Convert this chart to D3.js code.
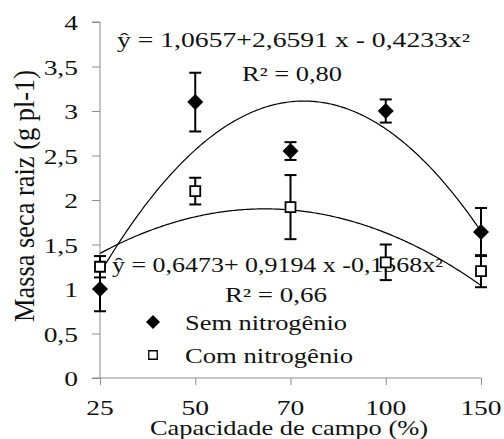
<!DOCTYPE html>
<html>
<head>
<meta charset="utf-8">
<script src="https://cdn.jsdelivr.net/npm/d3@7"></script>
<style>
  html, body { margin: 0; padding: 0; background: #fff; }
  svg { display: block; }
</style>
</head>
<body>
<svg id="chart" width="504" height="439"></svg>
<script>
// ---- data ----
const categories = ["25", "50", "70", "100", "150"];
const semValues = [1.0, 3.1, 2.55, 3.0, 1.64];
const semErrors = [0.25, 0.33, 0.10, 0.13, 0.27];
const comValues = [1.25, 2.1, 1.92, 1.3, 1.2];
const comErrors = [0.12, 0.15, 0.36, 0.20, 0.18];
const yTicks = [0, 0.5, 1, 1.5, 2, 2.5, 3, 3.5, 4];
const yTickLabels = ["0", "0,5", "1", "1,5", "2", "2,5", "3", "3,5", "4"];
const seriesNames = ["Sem nitrogênio", "Com nitrogênio"];
const eqSem = "ŷ = 1,0657+2,6591 x - 0,4233x²";
const r2Sem = "R² = 0,80";
const eqCom = "ŷ = 0,6473+ 0,9194 x -0,1568x²";
const r2Com = "R² = 0,66";
const xTitle = "Capacidade de campo (%)";
const yTitle = "Massa seca raiz (g pl-1)";

// ---- layout ----
const FONT = "Liberation Serif";
const svg = d3.select("#chart");
const X0 = 100, X1 = 481, Y0 = 378, Y1 = 22;
const x = d3.scalePoint().domain(categories).range([X0, X1]);
const xIdx = d3.scaleLinear().domain([1, categories.length]).range([X0, X1]);
const y = d3.scaleLinear().domain([0, 4]).range([Y0, Y1]);
const axisColor = "#8c8c8c";
const HS = 1.25; // horizontal glyph stretch of the reference

// axes
const yAxis = svg.append("g").attr("transform", `translate(${X0},0)`)
  .call(d3.axisLeft(y).tickValues(yTicks).tickSize(8).tickFormat(""));
yAxis.selectAll("path,line").attr("stroke", axisColor).attr("stroke-width", 1);
yAxis.select(".domain").attr("d", `M-8,${Y1}H0V${Y0}`);

const xAxis = svg.append("g").attr("transform", `translate(0,${Y0})`)
  .call(d3.axisBottom(x).tickSize(7).tickFormat(""));
xAxis.selectAll("path,line").attr("stroke", axisColor).attr("stroke-width", 1);
xAxis.select(".domain").attr("d", `M${X0 - 8},0H${X1}`);

function styleText(sel, size) {
  return sel.attr("font-family", FONT).attr("font-size", size).attr("fill", "#111");
}

// y tick labels
styleText(svg.append("g").selectAll("text").data(yTicks).join("text"), 22)
  .attr("transform", d => `translate(78,${y(d) + 8}) scale(${HS},1)`)
  .attr("text-anchor", "end")
  .text((d, i) => yTickLabels[i]);

// x tick labels
styleText(svg.append("g").selectAll("text").data(categories).join("text"), 22)
  .attr("transform", d => `translate(${x(d)},415) scale(${HS},1)`)
  .attr("text-anchor", "middle")
  .text(d => d);

// axis titles
styleText(svg.append("text"), 21)
  .attr("x", 150).attr("y", 435)
  .attr("textLength", 278).attr("lengthAdjust", "spacingAndGlyphs")
  .text(xTitle);

styleText(svg.append("text"), 22)
  .attr("transform", "translate(34,196) scale(1.3,1) rotate(-90)")
  .attr("text-anchor", "middle")
  .attr("textLength", 252).attr("lengthAdjust", "spacingAndGlyphs")
  .text(yTitle);

// quadratic least squares trend (x = 1..n), as the spreadsheet trendline
function quadFit(vals) {
  const s = [0, 0, 0, 0, 0], t = [0, 0, 0];
  vals.forEach((v, i) => {
    const xi = i + 1;
    for (let k = 0; k <= 4; k++) s[k] += Math.pow(xi, k);
    for (let k = 0; k <= 2; k++) t[k] += v * Math.pow(xi, k);
  });
  const A = [[s[0], s[1], s[2], t[0]], [s[1], s[2], s[3], t[1]], [s[2], s[3], s[4], t[2]]];
  for (let c = 0; c < 3; c++) {
    for (let r = c + 1; r < 3; r++) {
      const f = A[r][c] / A[c][c];
      for (let k = c; k < 4; k++) A[r][k] -= f * A[c][k];
    }
  }
  const coef = [0, 0, 0];
  for (let r = 2; r >= 0; r--) {
    let sum = A[r][3];
    for (let k = r + 1; k < 3; k++) sum -= A[r][k] * coef[k];
    coef[r] = sum / A[r][r];
  }
  return xv => coef[0] + coef[1] * xv + coef[2] * xv * xv;
}
const line = d3.line().x(d => xIdx(d[0])).y(d => y(d[1]));

// equation texts
function addText(str, x0, x1, yb, size) {
  styleText(svg.append("text"), size).attr("x", x0).attr("y", yb)
    .attr("textLength", x1 - x0).attr("lengthAdjust", "spacingAndGlyphs")
    .text(str);
}
addText(eqSem, 117, 470, 47, 20);
addText(r2Sem, 242, 342, 81, 20);
addText(eqCom, 112, 443, 272, 20);
addText(r2Com, 225, 327, 302, 20);

// trend curves
[semValues, comValues].forEach(vals => {
  const f = quadFit(vals);
  const pts = d3.range(0, 201).map(k => {
    const xv = 1 + (categories.length - 1) * k / 200;
    return [xv, f(xv)];
  });
  svg.append("path").attr("d", line(pts))
    .attr("fill", "none").attr("stroke", "#000").attr("stroke-width", 1.2);
});

// legend
addText(seriesNames[0], 185, 347, 330, 21);
addText(seriesNames[1], 185, 353, 363, 21);
svg.append("path").attr("d", d3.symbol().type(d3.symbolSquare).size(98)())
  .attr("transform", "translate(153,322) rotate(45)").attr("fill", "#000");
svg.append("path").attr("d", d3.symbol().type(d3.symbolSquare).size(72)())
  .attr("transform", "translate(153,355)").attr("fill", "#fff")
  .attr("stroke", "#000").attr("stroke-width", 1.3);

// error bars
function errorBars(vals, errs) {
  const g = svg.append("g").attr("stroke", "#000").attr("stroke-width", 2);
  vals.forEach((v, i) => {
    const cx = x(categories[i]);
    const top = y(v + errs[i]), bot = y(v - errs[i]);
    g.append("line").attr("x1", cx).attr("x2", cx).attr("y1", top).attr("y2", bot);
    g.append("line").attr("x1", cx - 6).attr("x2", cx + 6).attr("y1", top).attr("y2", top);
    g.append("line").attr("x1", cx - 6).attr("x2", cx + 6).attr("y1", bot).attr("y2", bot);
  });
}
errorBars(semValues, semErrors);
errorBars(comValues, comErrors);

// markers
const diamond = d3.symbol().type(d3.symbolSquare).size(128);
const square = d3.symbol().type(d3.symbolSquare).size(100);
svg.append("g").selectAll("path").data(semValues).join("path")
  .attr("d", diamond())
  .attr("transform", (d, i) => `translate(${x(categories[i])},${y(d)}) rotate(45)`)
  .attr("fill", "#000");
svg.append("g").selectAll("path").data(comValues).join("path")
  .attr("d", square())
  .attr("transform", (d, i) => `translate(${x(categories[i])},${y(d)})`)
  .attr("fill", "#fff").attr("stroke", "#000").attr("stroke-width", 1.8);
</script>
</body>
</html>
